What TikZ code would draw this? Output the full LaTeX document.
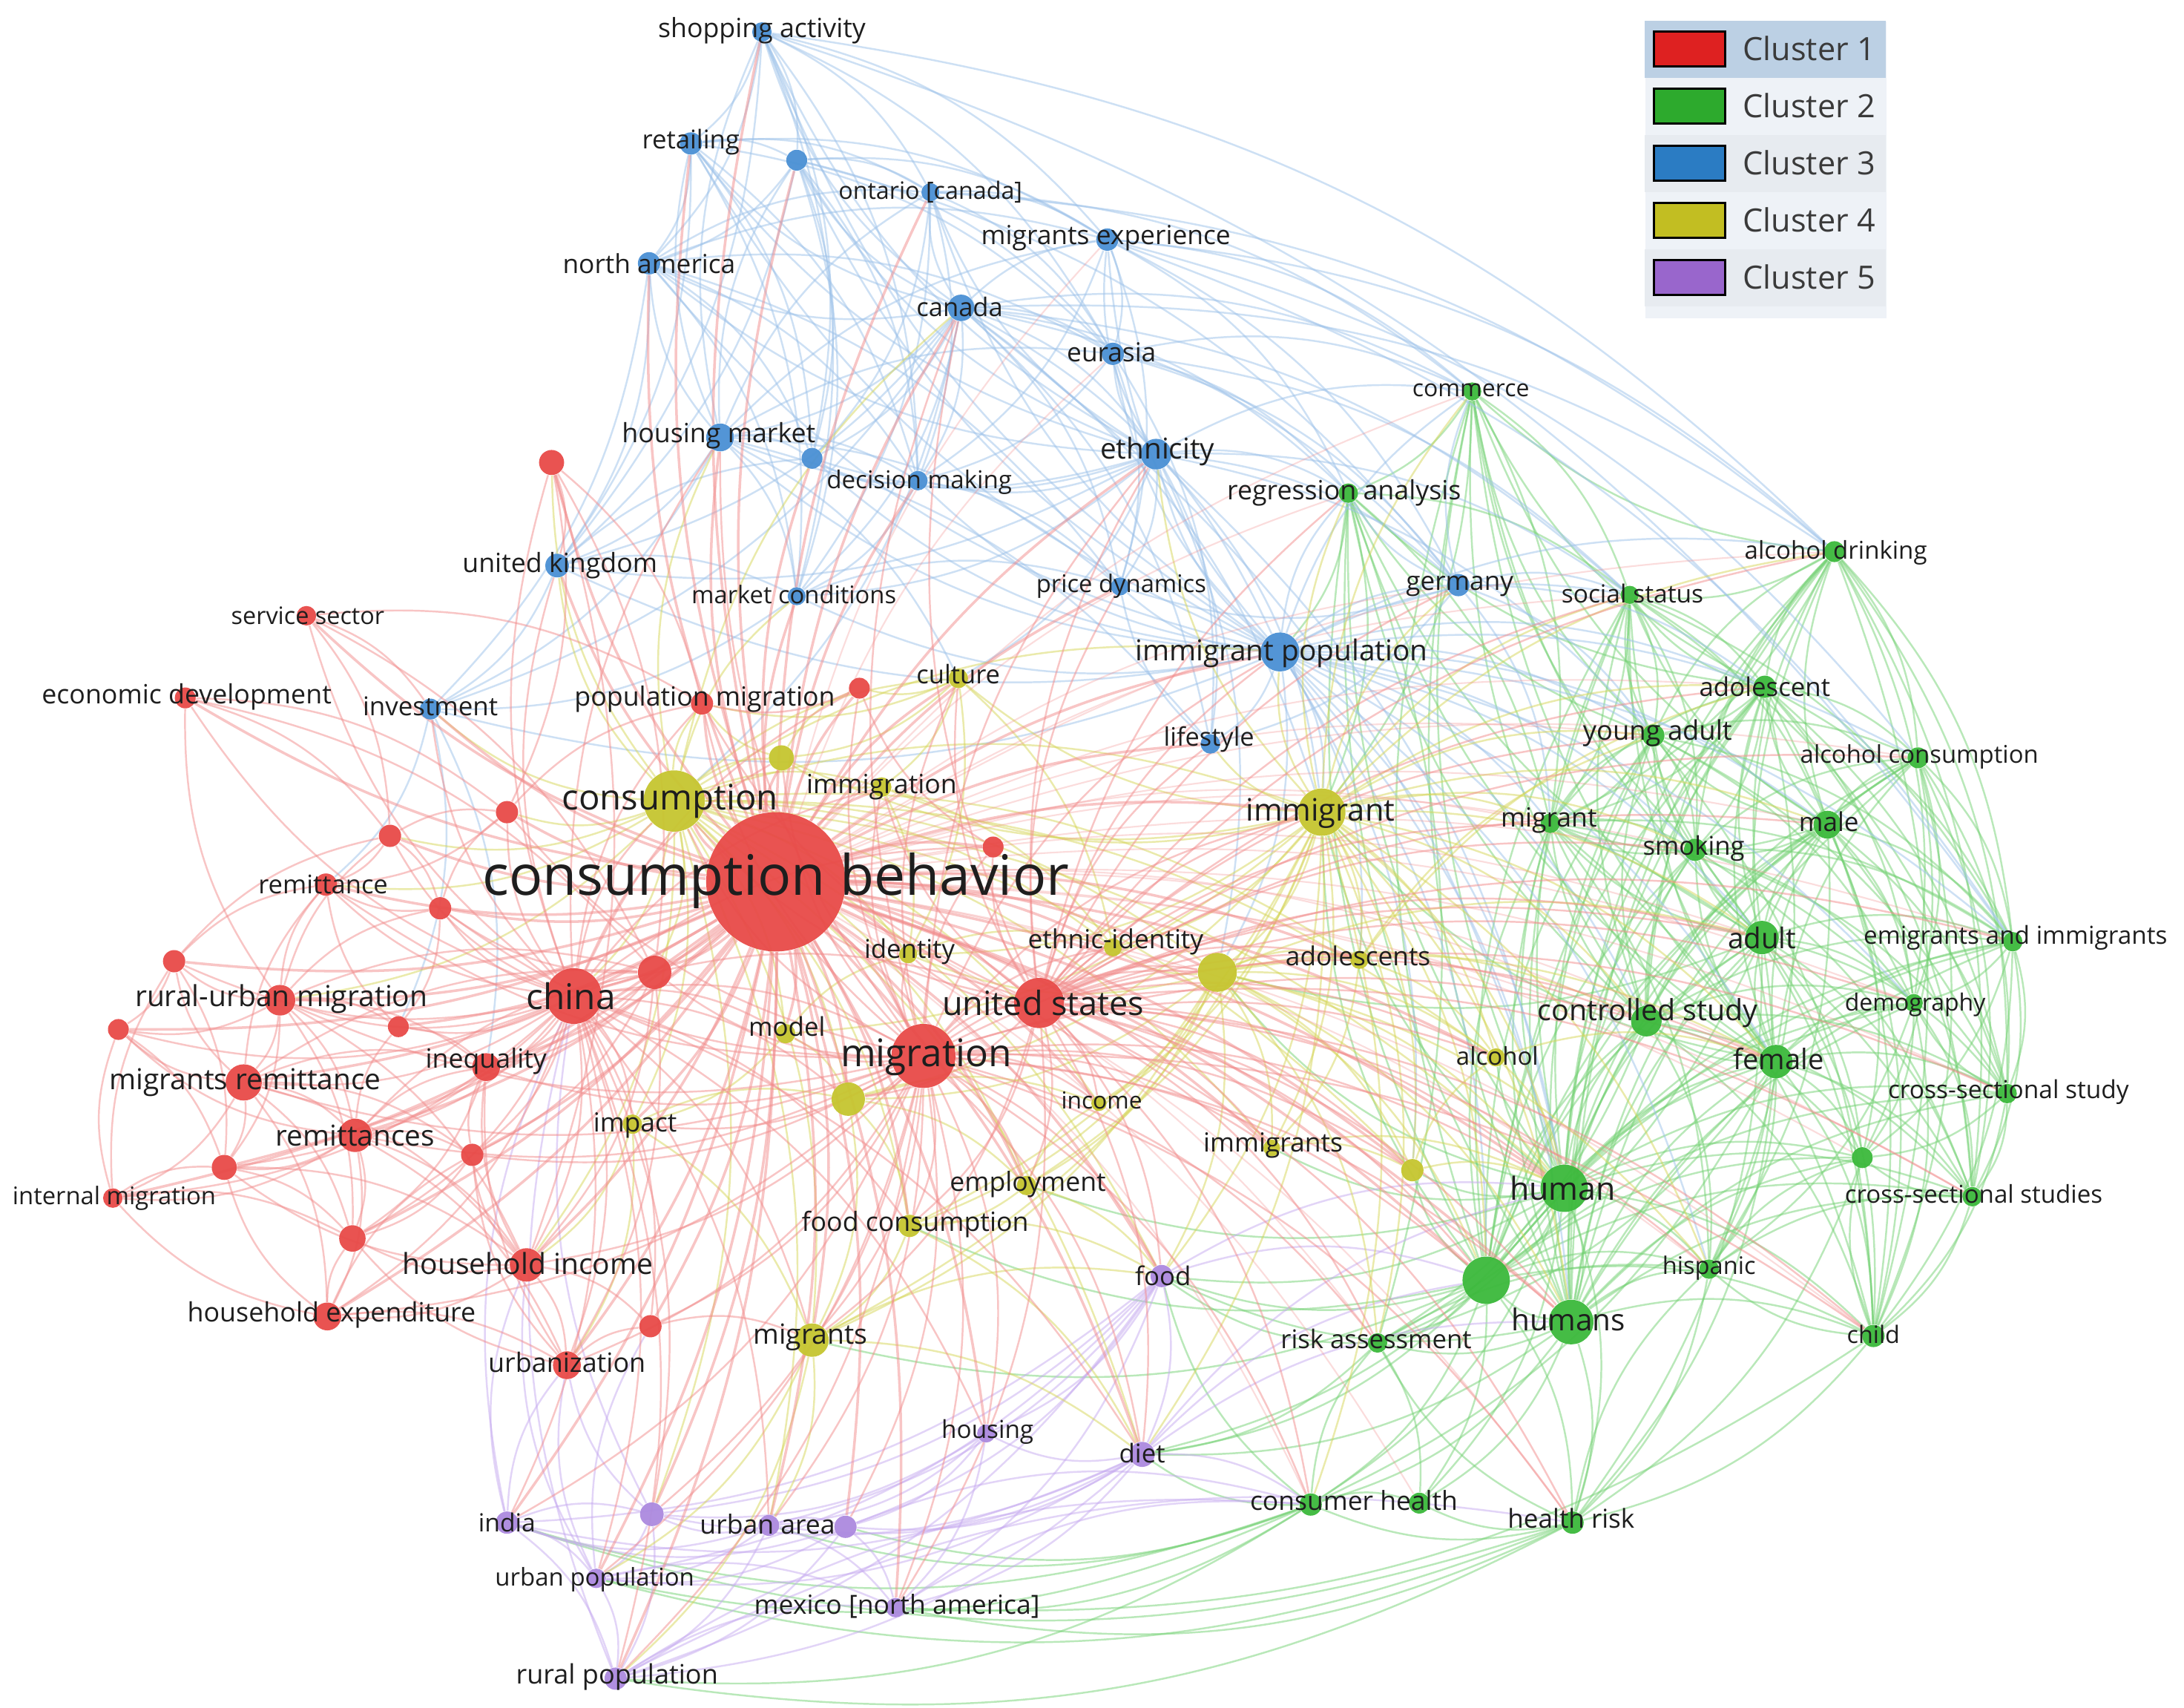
\documentclass[tikz,border=0pt]{standalone}
\usepackage{fontspec}
\setmainfont{Open Sans}
\usepackage{graphicx}
\newlength\ux \setlength\ux{0.18776mm}
\definecolor{cR}{HTML}{E84A48}
\definecolor{cG}{HTML}{3CB93C}
\definecolor{cB}{HTML}{4A90D4}
\definecolor{cY}{HTML}{C6C630}
\definecolor{cP}{HTML}{AC8ADF}
\definecolor{eRc}{HTML}{F28C8C}
\definecolor{eGc}{HTML}{74D274}
\definecolor{eBc}{HTML}{9DC2EA}
\definecolor{eYc}{HTML}{D6D658}
\definecolor{ePc}{HTML}{C6AAF0}
\definecolor{labc}{HTML}{1E1E1E}
\definecolor{legbg}{HTML}{EEF2F7}
\definecolor{legrow}{HTML}{E7EBF0}
\definecolor{leghl}{HTML}{BCD0E4}
\definecolor{legtxt}{HTML}{3A3A3A}
\definecolor{L1}{HTML}{DE2121}
\definecolor{L2}{HTML}{2DAA2D}
\definecolor{L3}{HTML}{2B7CC3}
\definecolor{L4}{HTML}{C2BE22}
\definecolor{L5}{HTML}{9966CC}
\pgfdeclarelayer{bgl}
\pgfdeclarelayer{edges}
\pgfsetlayers{bgl,edges,main}
\tikzset{
  dot/.style={circle,inner sep=0pt,draw=none,fill opacity=0.95},
  nR/.style={dot,fill=cR}, nG/.style={dot,fill=cG}, nB/.style={dot,fill=cB},
  nY/.style={dot,fill=cY}, nP/.style={dot,fill=cP},
  lab/.style={inner sep=0pt,text=labc},
  edgebase/.style={line width=0.7pt,draw opacity=0.5},
  eR/.style={edgebase,draw=eRc}, 
  eRh/.style={edgebase,draw=eRc,line width=1.0pt,draw opacity=0.5},
  eRf/.style={edgebase,draw=eRc,line width=0.6pt,draw opacity=0.3},
  eG/.style={edgebase,draw=eGc}, eB/.style={edgebase,draw=eBc},
  eY/.style={edgebase,draw=eYc}, eP/.style={edgebase,draw=ePc},
  legbox/.style={draw=black,line width=0.9pt,minimum width=51\ux,minimum height=25\ux,inner sep=0pt},
  legtext/.style={inner sep=0pt,text=legtxt,anchor=west}
}
\begin{document}
\begin{tikzpicture}[x=0.18776mm,y=-0.18776mm]
\useasboundingbox (0,0) rectangle (1568,1226);
\begin{pgfonlayer}{bgl}
\fill[white] (0,0) rectangle (1568,1226);
\end{pgfonlayer}

% ---------- nodes ----------
\foreach \n/\x/\y/\r in {cb/557/633/50, china/412/715/20, mig/663/758/23, us/746/720/18, rum/201/718/11, mrem/175/777/13, rems/255/815/12, hinc/378/908/12, hexp/235/945/10, urb/407/980/10, ineq/349/766/10, intm/81/860/7, rem/234/635/8, ecd/133/501/7.5, serv/220/442/7, popm/504/505/8, r1/396/332/9, r2/617/494/7.5, r3/364/583/8, r4/280/600/8, r5/316/652/8, r6/125/690/8, r7/85/739/7.5, r8/286/737/7.5, r9/470/698/12, r10/713/608/7.5, r11/161/838/9, r12/339/829/8, r13/253/889/9.5, r14/467/952/8}
  \node[nR,minimum size={2*\r*0.18776mm}] (\n) at (\x,\y) {};
\foreach \n/\x/\y/\r in {hum/1123/853/17, humans/1128/949/16, g1/1067/919/17, fem/1275/762/12, adult/1265/673/12, cstudy/1182/733/11, male/1312/592/10, smok/1217/610/8, ya/1187/528/8, adol/1267/493/8, alcc/1377/544/7.5, alcd/1317/396/7.5, soc/1170/427/6.5, comm/1057/281/6.5, reg/968/354/7, migr/1113/591/7, emim/1445/676/7, demo/1374/720/6.5, css/1441/785/7, css2/1416/859/7, g2/1337/831/7.5, hisp/1227/911/7, child/1345/959/8, risk/989/964/7, ch1/941/1080/8, ch2/1019/1079/7.5, hrisk/1129/1093/8}
  \node[nG,minimum size={2*\r*0.18776mm}] (\n) at (\x,\y) {};
\foreach \n/\x/\y/\r in {shop/547/23/7, ret/496/103/8, b1/572/115/7.5, ont/668/138/6.5, na/466/189/8, mexp/795/172/8, can/690/221/9.5, eur/799/254/8, hm/517/314/10, b2/583/329/7.5, dm/659/345/7, eth/830/326/11, uk/400/406/8.5, mc/572/428/6.5, pd/804/421/6.5, ger/1047/420/8, ip/919/468/14, inv/309/509/7.5, life/869/534/7}
  \node[nB,minimum size={2*\r*0.18776mm}] (\n) at (\x,\y) {};
\foreach \n/\x/\y/\r in {cons/484/575/22, immt/949/583/17, cult/688/487/7, immg/633/565/7, y1/561/544/9, ident/652/685/6.5, ethid/799/680/6.5, y2/874/698/14, adols/976/689/6.5, model/564/742/7, impact/454/807/7, y3/609/789/12, inc/789/792/5.5, imms/913/824/6, y4/1014/840/8, alc/1074/759/6.5, empl/737/851/7, fcons/653/880/8, migs/583/962/12}
  \node[nY,minimum size={2*\r*0.18776mm}] (\n) at (\x,\y) {};
\foreach \n/\x/\y/\r in {food/834/916/8, diet/820/1044/9, hous/708/1029/6.5, ua/552/1095/7.5, p1/607/1096/8, india/364/1093/8, p2/468/1087/8.5, upop/428/1133/7, mex/643/1154/7, rpop/442/1205/8}
  \node[nP,minimum size={2*\r*0.18776mm}] (\n) at (\x,\y) {};

% ---------- edges ----------
\begin{pgfonlayer}{edges}
% green
\foreach \a/\L in {
 hum/{humans,g1,fem,adult,cstudy,male,smok,ya,adol,alcc,alcd,soc,comm,reg,migr,emim,demo,css,css2,g2,hisp,child,risk,ch1,ch2,hrisk,immt,y2,y4,alc,imms,food,diet,empl},
 humans/{g1,fem,adult,cstudy,male,smok,ya,adol,alcc,alcd,soc,comm,reg,migr,emim,demo,css,css2,g2,hisp,child,risk,ch1,ch2,hrisk,diet,food},
 g1/{fem,adult,cstudy,male,smok,ya,adol,alcc,alcd,soc,comm,reg,migr,emim,demo,css,css2,g2,hisp,child,risk,ch1,ch2,hrisk,food,diet,immt,y4,fcons,migs},
 fem/{adult,cstudy,male,smok,ya,adol,alcc,alcd,soc,comm,reg,migr,emim,demo,css,css2,g2,hisp,child,risk,ch1,hrisk,immt},
 adult/{cstudy,male,smok,ya,adol,alcc,alcd,soc,comm,reg,migr,emim,demo,css,css2,g2,hisp,child,risk,hrisk,y2},
 cstudy/{male,smok,ya,adol,alcc,alcd,soc,comm,reg,migr,emim,demo,css,css2,g2,hisp,child,risk},
 male/{smok,ya,adol,alcc,alcd,soc,comm,migr,emim,demo,css,css2,g2,hisp,child},
 adol/{smok,ya,alcc,alcd,soc,comm,reg,migr,emim,demo,css,css2,child,hisp},
 ya/{smok,alcc,alcd,soc,comm,reg,migr,emim,demo,css,child},
 smok/{alcc,alcd,soc,comm,migr,emim,demo,css,css2,child},
 alcd/{alcc,soc,emim,css,css2,child,demo,migr,comm},
 alcc/{emim,css,demo,child,css2,g2},
 comm/{reg,soc,migr,immt},
 reg/{soc,risk,migr,immt,ip},
 soc/{migr,ya,adol,smok,male,emim,css},
 migr/{smok,ya,adol,emim,demo,hisp,child,css2},
 demo/{g2,css2,child,hisp},
 hisp/{css2,g2,hrisk},
 g2/{hrisk},
 emim/{demo,css,css2,child,g2},
 css/{css2,g2,demo,child},
 css2/{child,g2},
 child/{hisp,g2,mex,hrisk},
 hrisk/{ch1,ch2,risk,rpop,upop,mex,india,hisp},
 ch1/{ch2,risk,diet,food,p1,mex,ua,rpop,india,upop},
 risk/{ch2,hisp,food,diet}}
 { \foreach \b in \L { \draw[eG] (\a) to[bend left=18] (\b); } }
% blue
\foreach \a/\L in {
 can/{shop,ret,b1,ont,na,mexp,eur,hm,b2,dm,eth,uk,mc,pd,ger,ip,inv,life,reg,comm,immt,cons,hum,alcd,soc},
 ip/{shop,ret,b1,ont,na,mexp,eur,hm,b2,dm,eth,uk,mc,pd,ger,inv,life,immt,adol,ya,hum,humans,g1,soc,reg,migr,smok,fem,adult,cstudy,comm,y2,alcd,alcc,male,emim,adols,hisp,demo,y4},
 eth/{shop,ret,b1,ont,na,mexp,eur,hm,b2,dm,uk,mc,pd,ger,life,reg,comm,immt,hum,soc,ya,y2,cult},
 hm/{shop,ret,b1,ont,na,mexp,eur,b2,dm,uk,mc,inv,life,pd,cult},
 shop/{ret,b1,ont,na,mexp,eur,dm,b2,mc,uk,emim,alcd},
 ret/{b1,ont,na,mexp,eur,dm,b2,mc,uk},
 b1/{ont,na,mexp,eur,dm,b2,mc,uk,ger},
 na/{ont,mexp,eur,dm,b2,mc,uk,inv,pd},
 ont/{mexp,eur,dm,b2,mc,alcd,comm},
 mexp/{eur,dm,ger,reg,pd,alcd,alcc,comm,emim},
 eur/{dm,pd,ger,reg,comm,life,soc},
 ger/{pd,life,reg,soc,comm,ya,adol,migr},
 uk/{inv,mc,b2},
 dm/{mc,b2,pd},
 mc/{pd,inv},
 life/{pd},
 inv/{rem,ineq,r8}}
 { \foreach \b in \L { \draw[eB] (\a) to[bend left=18] (\b); } }
% purple
\foreach \a/\L in {
 food/{diet,hous,ua,p1,mex,rpop,upop,india,p2,hum,g1},
 diet/{hous,ua,p1,mex,rpop,upop,india,p2,hum,g1,humans,ch1},
 hous/{ua,p1,mex,p2},
 ua/{p1,india,p2,upop,rpop,mex},
 p1/{mex,rpop,upop,india,ch1},
 india/{upop,rpop,p2,china,urb,hinc},
 p2/{upop,rpop,urb,china},
 upop/{rpop,mex,hinc,urb,r14},
 rpop/{mex,china,hrisk,ch1},
 mex/{ch1}}
 { \foreach \b in \L { \draw[eP] (\a) to[bend left=18] (\b); } }
% yellow
\foreach \a/\L in {
 cons/{immt,cult,immg,y1,ident,ethid,y2,adols,model,impact,y3,inc,imms,y4,alc,empl,fcons,migs,popm,r1,r3,r9,hm,uk,mc,ip,can,food,diet,hum,p2,ua,hinc,rum,rem,r4,inv,china},
 immt/{cult,immg,y1,ident,ethid,y2,adols,model,y3,inc,imms,y4,alc,empl,fcons,migs,hum,humans,g1,fem,adult,cstudy,ya,adol,migr,smok,hisp,risk,ch1,ip,eth,ger,life,reg,comm,food,diet,soc,alcd,male},
 y2/{ethid,adols,imms,y4,alc,ident,inc,empl,fcons,hum,g1,adult,fem,risk,migs,humans,cstudy,hisp,food,y3},
 cult/{ident,immg,ethid,y1,r2,popm},
 immg/{y1,ident,ethid},
 ident/{ethid},
 model/{impact,y3,ident},
 impact/{y3,migs,hinc,urb},
 y3/{migs,fcons,empl,inc},
 empl/{fcons,inc,food},
 fcons/{migs,food,diet},
 migs/{food,diet,ua,rpop,upop},
 imms/{y4,hum},
 y4/{alc,hum},
 adols/{alc,imms,adol,ya},
 alc/{hum,fem},
 y1/{popm,r2}}
 { \foreach \b in \L { \draw[eY] (\a) to[bend left=18] (\b); } }
% red
\foreach \a/\L in {
 china/{rum,mrem,rems,hinc,hexp,urb,ineq,intm,rem,ecd,r3,r4,r5,r6,r7,r8,r9,r11,r12,r13,r14,mig,us,cons,popm,serv,r1,migs,impact,model,india,upop,rpop,ua,p2,hm,uk,inv,y3,fcons,r10,r2,y1,immg,hous,diet},
 mig/{rum,mrem,rems,hinc,hexp,urb,ineq,rem,r9,r12,r14,us,cons,immg,y3,model,impact,empl,fcons,migs,inc,ident,food,diet,hous,ua,p1,mex,rpop,upop,india,p2,hum,g1,humans,immt,y2,ip,can,hm,eth,r10,popm,r2,cult,risk,ch1,adult,fem,imms,y4,r3,r5,y1,ethid,hrisk,child,alc},
 us/{hum,humans,g1,fem,adult,cstudy,male,smok,ya,adol,migr,hisp,child,alc,immt,y2,ethid,adols,imms,y4,ip,eth,can,ger,life,pd,cons,ident,inc,empl,food,diet,mex,risk,hrisk,reg,alcc,alcd,soc,demo,emim,css,css2,ch1,y3,fcons,migs,r10,cult,immg,popm},
 rum/{mrem,rems,r6,r7,hinc,ineq,r8,rem,r11,r13,r4,r5,ecd,r9},
 mrem/{rems,r7,r11,intm,r6,hexp,r13,hinc,r12,ineq,rem,r9},
 rems/{r11,r13,hexp,hinc,ineq,r12,intm,r8,r7,urb,r9},
 hinc/{hexp,urb,r13,r12,ineq,r14,r11},
 hexp/{r13,r11,intm,urb,r12},
 urb/{r14,r12,r13,ineq},
 intm/{r11,r7,r6,r13},
 r6/{r7,rem,r4,r11},
 r4/{rem,r3,r5},
 r5/{rem,r8,r3},
 r3/{rem,popm},
 r8/{ineq,rem},
 ecd/{r4,r9,r3},
 serv/{r9,inv,popm,r4},
 r1/{r3,popm,r9,hinc,uk},
 r9/{ineq,r5,r12,hinc,urb},
 r12/{ineq,r13},
 r14/{migs},
 r10/{r2},
 r2/{popm},
 r11/{r13,hinc},
 r7/{r11},
 ineq/{r13}}
 { \foreach \b in \L { \draw[eR] (\a) to[bend left=18] (\b); } }
\foreach \b in {china,mig,us,rum,mrem,rems,hinc,hexp,urb,ineq,intm,rem,ecd,serv,popm,r1,r2,r3,r4,r5,r6,r7,r8,r9,r10,r11,r12,r13,r14,cons,immt,cult,immg,y1,ident,ethid,y2,adols,model,impact,y3,inc,imms,y4,alc,empl,fcons,migs,food,diet,hous,ua,p1,india,p2,upop,mex,rpop,hum,humans,g1,ip,life,eth,can,hm,uk,mc,pd,inv,dm,b2,na,ret,shop,b1,ont}
 { \draw[eRh] (cb) to[bend left=12] (\b); }
\foreach \b in {fem,adult,cstudy,male,smok,ya,adol,migr,risk,ch1,ch2,hisp,child,hrisk,reg,comm,soc,ger,eur,mexp,alcc,alcd,emim,demo,css,css2,g2}
 { \draw[eRf] (cb) to[bend left=14] (\b); }
\end{pgfonlayer}

% ---------- labels ----------
\foreach \n/\x/\y/\w/\t in {
 cb/557/632/421/{consumption behavior}, china/410/715/64/china, mig/665/759/123/migration, us/749/720/145/{united states},
 rum/202/717/210/{rural-urban migration}, mrem/176/777/195/{migrants remittance}, rems/255/815/114/remittances,
 hinc/379/907/180/{household income}, hexp/238/944/207/{household expenditure}, urb/407/978/113/urbanization,
 ineq/349/762/87/inequality, intm/82/860/146/{internal migration}, rem/232/635/93/remittance,
 ecd/134/500/208/{economic development}, serv/221/442/110/{service sector}, popm/506/502/187/{population migration},
 hum/1122/853/76/human, humans/1126/947/82/humans, fem/1277/760/65/female, adult/1265/673/49/adult,
 cstudy/1183/727/158/{controlled study}, male/1313/590/43/male, smok/1216/609/73/smoking, ya/1190/526/107/{young adult},
 adol/1267/493/94/adolescent, alcc/1378/543/171/{alcohol consumption}, alcd/1318/397/131/{alcohol drinking},
 soc/1172/426/102/{social status}, comm/1056/280/84/commerce, reg/965/354/168/{regression analysis},
 migr/1112/589/69/migrant, emim/1447/673/218/{emigrants and immigrants}, demo/1375/721/101/demography,
 css/1442/784/173/{cross-sectional study}, css2/1417/857/185/{cross-sectional studies}, hisp/1227/910/67/hispanic,
 child/1345/958/38/child, risk/988/961/137/{risk assessment}, ch/972/1077/149/{consumer health}, hrisk/1128/1090/91/{health risk},
 shop/547/22/149/{shopping activity}, ret/496/102/70/retailing, ont/668/138/132/{ontario [canada]},
 na/466/189/124/{north america}, mexp/794/171/179/{migrants experience}, can/689/220/62/canada, eur/798/253/64/eurasia,
 hm/516/313/139/{housing market}, dm/660/346/133/{decision making}, eth/831/324/82/ethnicity,
 uk/402/406/140/{united kingdom}, mc/570/427/147/{market conditions}, pd/805/421/122/{price dynamics},
 ger/1048/421/77/germany, ip/920/469/210/{immigrant population}, inv/309/507/97/investment, life/868/531/65/lifestyle,
 cons/481/575/155/consumption, immt/948/584/107/immigrant, cult/688/484/60/culture, immg/633/565/108/immigration,
 ident/653/683/65/identity, ethid/801/676/126/ethnic-identity, adols/975/686/104/adolescents, model/565/737/55/model,
 impact/456/808/60/impact, inc/791/790/58/income, imms/914/822/100/immigrants, alc/1075/758/59/alcohol,
 empl/738/850/112/employment, fcons/657/879/163/{food consumption}, migs/582/960/82/migrants,
 food/835/916/40/food, diet/820/1043/33/diet, hous/709/1028/66/housing, ua/551/1094/97/{urban area},
 india/364/1093/41/india, upop/427/1134/143/{urban population}, mex/644/1153/205/{mexico [north america]},
 rpop/443/1204/145/{rural population}}
 { \node[lab] (l\n) at (\x,\y) {\resizebox{\w\ux}{!}{\t}}; }

% ---------- legend ----------
\node[fill=legbg,minimum width=173\ux,minimum height=213\ux,inner sep=0pt,anchor=north west] (legend) at (1181,15) {};
\fill[leghl] (1181,15) rectangle (1354,56);
\fill[legrow] (1181,97) rectangle (1354,138);
\fill[legrow] (1181,179) rectangle (1354,220);
\foreach \i/\c/\y in {1/L1/35, 2/L2/76, 3/L3/117, 4/L4/158, 5/L5/199}
 { \node[legbox,fill=\c] (lb\i) at (1213,\y) {};
   \node[legtext] (lt\i) at (1251,\y) {\resizebox{95\ux}{!}{Cluster \i}}; }
\end{tikzpicture}
\end{document}
